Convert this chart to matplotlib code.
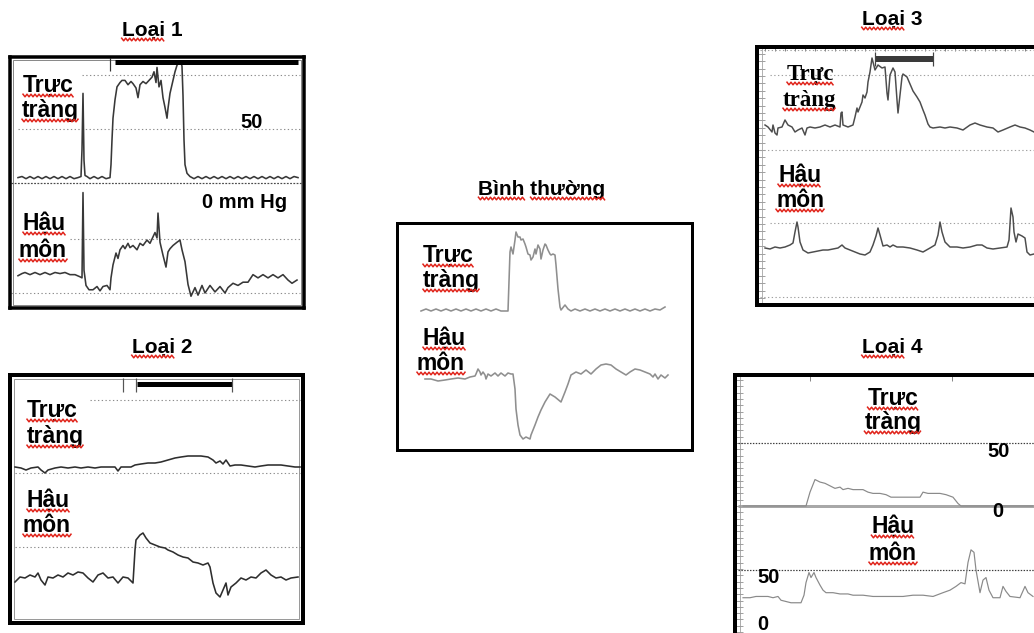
import numpy as np
import matplotlib
matplotlib.use("Agg")
import matplotlib.pyplot as plt
from matplotlib.transforms import Affine2D
from matplotlib.lines import Line2D
from matplotlib.patches import Rectangle

FIG_W, FIG_H, DPI = 1034, 633, 100
SANS = ["Liberation Sans", "DejaVu Sans"]
SERIF = ["Liberation Serif", "DejaVu Serif"]

# ---------------- recordings: time (s) and pressure (mmHg) ----------------
# Loại 1
L1_RECT_T = [10, 14, 18, 22, 26, 30, 34, 38, 42, 46, 50, 54, 58, 62, 66, 70, 73, 74, 75, 76,
             77, 79, 82, 86, 90, 94, 98, 102, 103, 104, 105, 107, 109, 112, 114, 117, 120, 123, 125, 128,
             130, 132, 135, 138, 140, 144, 146, 148, 149, 151, 153, 155, 157, 159, 160, 162, 165, 167, 169, 171,
             173, 174, 175, 176, 177, 179, 182, 186, 190, 194, 198, 202, 206, 210, 214, 218, 222, 226, 230, 234,
             238, 242, 246, 250, 254, 258, 262, 266, 270, 274, 278, 282, 286, 290]
L1_RECT_P = [5, 6, 4, 6, 4, 6, 4, 6, 4, 6, 4, 6, 4, 6, 4, 5, 6, 31, 83, 21,
             7, 6, 4, 6, 4, 6, 4, 5, 17, 40, 60, 77, 89, 93, 95, 95, 91, 94, 92, 88,
             79, 91, 94, 92, 94, 98, 103, 93, 107, 89, 95, 79, 70, 60, 69, 83, 95, 103, 109, 112,
             112, 108, 81, 40, 17, 9, 6, 4, 6, 4, 6, 4, 6, 4, 6, 4, 6, 4, 6, 4,
             6, 4, 6, 4, 6, 4, 6, 4, 6, 4, 6, 4, 6, 5]
L1_ANAL_T = [10, 14, 17, 22, 27, 32, 37, 42, 47, 52, 57, 62, 67, 72, 74, 75, 76, 78, 81, 85,
             89, 92, 95, 99, 102, 103, 105, 108, 110, 112, 115, 117, 120, 122, 125, 129, 132, 135, 139, 142,
             145, 147, 149, 150, 152, 155, 158, 160, 162, 165, 169, 172, 174, 177, 180, 183, 187, 190, 194, 197,
             202, 207, 212, 217, 220, 225, 230, 235, 240, 245, 250, 255, 260, 265, 270, 275, 280, 284, 289]
L1_ANAL_P = [16, 18, 19, 17, 19, 17, 19, 17, 19, 18, 19, 17, 17, 15, 14, 93, 21, 7, 3, 3,
             6, 2, 6, 7, 3, 14, 26, 37, 32, 40, 44, 41, 46, 42, 44, 40, 46, 44, 49, 46,
             52, 56, 51, 74, 47, 35, 24, 38, 41, 44, 47, 49, 40, 29, 8, -3, 5, -2, 7, 0,
             7, 1, 6, 0, 5, 9, 7, 10, 10, 17, 14, 17, 14, 17, 14, 17, 12, 9, 12]
L1_BALLOON = (107, 290)
L1_EVENTS = [102]

# Loại 2
L2_RECT_T = [7, 13, 18, 23, 30, 33, 37, 40, 47, 53, 60, 67, 73, 80, 87, 93, 100, 107, 110, 113,
             120, 123, 127, 133, 140, 147, 153, 160, 167, 173, 180, 187, 193, 200, 205, 208, 212, 215, 218, 222,
             227, 233, 240, 247, 253, 260, 267, 273, 280, 287, 292]
L2_RECT_P = [6, 5, 3, 5, 6, 3, 0, 3, 5, 6, 5, 6, 5, 6, 5, 6, 6, 6, 2, 6,
             6, 6, 8, 9, 10, 10, 11, 13, 15, 16, 17, 17, 17, 16, 13, 10, 12, 9, 13, 7,
             8, 8, 7, 6, 7, 8, 8, 8, 7, 6, 6]
L2_ANAL_T = [7, 12, 17, 22, 27, 30, 33, 37, 40, 45, 50, 55, 60, 65, 70, 75, 80, 85, 90, 95,
             100, 105, 110, 115, 120, 125, 127, 128, 132, 135, 138, 142, 147, 152, 157, 160, 165, 170, 175, 180,
             185, 190, 195, 200, 202, 205, 208, 212, 215, 218, 220, 223, 228, 233, 238, 243, 248, 253, 258, 263,
             268, 273, 278, 283, 290]
L2_ANAL_P = [18, 23, 22, 25, 23, 27, 20, 15, 23, 22, 25, 23, 27, 25, 28, 27, 22, 18, 25, 27,
             22, 23, 17, 23, 22, 17, 50, 60, 65, 67, 62, 57, 55, 53, 52, 50, 48, 45, 43, 42,
             38, 37, 35, 37, 33, 17, 7, 3, 10, 17, 5, 13, 17, 22, 20, 23, 22, 27, 30, 25,
             22, 23, 20, 22, 23]
L2_BALLOON = (129, 224)
L2_EVENTS = [115, 128, 224]

# Bình thường
N_RECT_T = [26, 31, 36, 41, 46, 51, 56, 61, 66, 71, 76, 81, 86, 91, 96, 101, 106, 113, 115, 116,
            118, 120, 121, 123, 125, 126, 128, 130, 131, 133, 135, 136, 138, 140, 141, 143, 145, 146, 148, 150,
            151, 153, 155, 156, 158, 160, 161, 163, 165, 166, 170, 173, 176, 180, 185, 190, 195, 200, 205, 210,
            215, 220, 225, 230, 235, 240, 245, 250, 255, 260, 265, 270]
N_RECT_P = [1, 3, 1, 3, 1, 3, 1, 3, 1, 3, 1, 3, 1, 3, 1, 3, 1, 1, 60, 65,
            58, 72, 80, 75, 75, 72, 73, 68, 65, 58, 57, 52, 55, 63, 58, 67, 63, 53, 62, 68,
            67, 62, 58, 57, 58, 57, 47, 23, 5, 2, 7, 3, 1, 3, 1, 3, 1, 3, 1, 3,
            1, 3, 1, 3, 1, 3, 1, 3, 1, 3, 2, 5]
N_ANAL_T = [30, 36, 43, 50, 56, 63, 70, 75, 80, 81, 83, 85, 86, 88, 90, 91, 93, 96, 100, 103,
            106, 110, 113, 116, 118, 120, 121, 123, 125, 128, 131, 135, 136, 140, 143, 146, 150, 155, 160, 166,
            170, 173, 176, 181, 186, 191, 196, 201, 206, 211, 216, 221, 226, 231, 235, 240, 245, 250, 255, 258,
            260, 263, 266, 270, 273]
N_ANAL_P = [61, 61, 59, 60, 61, 62, 61, 63, 64, 66, 71, 68, 65, 68, 65, 61, 66, 64, 67, 64,
            67, 64, 67, 66, 66, 51, 31, 15, 5, 1, 3, 1, 5, 15, 23, 30, 38, 46, 43, 38,
            48, 56, 65, 68, 66, 70, 66, 71, 75, 76, 75, 71, 68, 65, 68, 71, 70, 68, 66, 63,
            66, 61, 65, 62, 65]

# Loại 3
L3_RECT_T = [10, 13, 17, 18, 20, 22, 23, 27, 30, 33, 37, 40, 43, 47, 50, 52, 55, 60, 65, 70,
             75, 80, 85, 86, 87, 88, 93, 98, 100, 102, 103, 105, 107, 108, 110, 112, 113, 115, 117, 118,
             120, 123, 127, 130, 132, 133, 135, 138, 140, 142, 143, 145, 147, 148, 152, 155, 158, 162, 165, 168,
             170, 173, 175, 178, 185, 190, 195, 202, 208, 215, 220, 225, 232, 238, 243, 248, 255, 260, 265, 270,
             275, 279]
L3_RECT_P = [25, 23, 18, 25, 17, 15, 22, 23, 30, 25, 23, 18, 20, 22, 15, 22, 23, 22, 23, 25,
             23, 25, 23, 37, 38, 25, 23, 25, 33, 42, 38, 43, 48, 55, 52, 58, 68, 78, 92, 88,
             80, 85, 82, 83, 57, 50, 75, 82, 78, 50, 37, 55, 73, 76, 73, 66, 59, 53, 48, 40,
             35, 26, 23, 22, 23, 22, 23, 22, 20, 25, 27, 25, 23, 22, 18, 20, 23, 25, 23, 22,
             20, 18]
L3_ANAL_T = [10, 15, 20, 25, 30, 35, 38, 40, 42, 43, 45, 48, 53, 58, 63, 68, 73, 78, 83, 87,
             90, 95, 100, 105, 110, 115, 118, 121, 123, 125, 128, 132, 135, 138, 142, 148, 155, 162, 168, 175,
             180, 183, 185, 187, 190, 195, 202, 208, 215, 222, 227, 232, 238, 245, 252, 254, 256, 258, 259, 261,
             263, 267, 270, 272, 275, 279]
L3_ANAL_P = [49, 48, 50, 49, 50, 52, 54, 65, 75, 70, 55, 47, 44, 45, 46, 47, 47, 48, 49, 52,
             49, 47, 45, 43, 42, 45, 52, 61, 69, 62, 51, 52, 50, 52, 50, 50, 49, 47, 45, 49,
             52, 62, 75, 65, 55, 50, 50, 49, 50, 52, 52, 49, 48, 49, 50, 57, 89, 80, 65, 55,
             63, 61, 59, 45, 42, 43]
L3_BALLOON = (120, 178)
L3_EVENTS = [120, 178]

# Loại 4
L4_RECT_T = [10, 33, 73, 77, 82, 87, 92, 97, 102, 107, 110, 115, 120, 125, 130, 135, 140, 147, 153, 158,
             167, 177, 187, 190, 195, 200, 207, 213, 220, 225, 228, 250, 300]
L4_RECT_P = [0, 0, 0, 11, 21, 19, 18, 16, 14, 15, 13, 14, 13, 13, 13, 11, 10, 10, 9, 7,
             7, 7, 7, 11, 10, 10, 10, 9, 7, 2, 0, 0, 0]
L4_ANAL_T = [10, 17, 23, 30, 35, 40, 45, 48, 53, 58, 63, 68, 71, 73, 76, 78, 81, 83, 87, 90,
             93, 100, 107, 115, 120, 130, 140, 150, 160, 170, 180, 190, 200, 210, 217, 223, 228, 232, 235, 238,
             241, 243, 247, 250, 253, 256, 260, 267, 270, 273, 277, 287, 292, 295, 300]
L4_ANAL_P = [28, 28, 29, 29, 29, 28, 29, 26, 25, 24, 24, 24, 30, 40, 48, 44, 48, 44, 38, 34,
             32, 32, 31, 31, 30, 30, 29, 29, 29, 29, 30, 30, 29, 32, 34, 37, 40, 39, 56, 66,
             64, 50, 32, 42, 44, 34, 28, 28, 37, 33, 29, 28, 37, 32, 29]
L4_EVENTS = [77, 219]

# ---------------- figure ----------------
fig = plt.figure(figsize=(FIG_W / DPI, FIG_H / DPI), dpi=DPI)
fig.patch.set_facecolor("white")


def pt(px):
    return px * 72.0 / DPI


DOTTED = (0, (1.2, 2.2))


class Panel:
    """A framed recording strip; axes data units are pixels from the frame's left / bottom."""

    def __init__(self, box, border):
        self.l, self.t, self.r, self.b = box
        half = border / 2.0
        w = self.r - self.l
        self.h = self.b - self.t
        self.w = w
        ax = fig.add_axes([(self.l + half) / FIG_W, 1 - (self.b - half) / FIG_H,
                           (w - border) / FIG_W, (self.h - border) / FIG_H])
        ax.set_xlim(half, w - half)
        ax.set_ylim(half, self.h - half)
        ax.set_xticks([])
        ax.set_yticks([])
        ax.set_facecolor("white")
        for sp in ax.spines.values():
            sp.set_linewidth(pt(border))
            sp.set_color("black")
            sp.set_zorder(6)
        self.ax = ax

    def row(self, y):
        return self.b - y

    def channel(self, zero_y, gain):
        return Affine2D().scale(1.0, gain).translate(0.0, self.b - zero_y) + self.ax.transData

    def trace(self, tf, t, p, color, lw):
        self.ax.plot(t, p, color=color, lw=pt(lw), transform=tf,
                     solid_joinstyle="round", zorder=3)

    def grid(self, tf, level, t0, t1, color="#8c8c8c", lw=1.1, style=DOTTED):
        self.ax.hlines(level, t0, t1, transform=tf, colors=color,
                       linewidth=pt(lw), linestyles=style, zorder=2)

    def bar(self, span, y, thick, color="black"):
        self.ax.hlines(self.row(y), span[0], span[1], colors=color,
                       linewidth=pt(thick), zorder=4)

    def ticks(self, times, y0, y1, color="#333333", lw=1.2):
        self.ax.vlines(times, self.row(y1), self.row(y0), colors=color,
                       linewidth=pt(lw), zorder=4)

    def inner_frame(self, inset, color="#8a8a8a", lw=1.0):
        self.ax.add_patch(Rectangle((inset, inset), self.w - 2 * inset, self.h - 2 * inset,
                                    fill=False, ec=color, lw=pt(lw), zorder=2))


squiggled = []


def put(x, y, s, size, ha="left", family=SANS, marked=()):
    txt = fig.text(x / FIG_W, 1 - y / FIG_H, s, fontsize=size, ha=ha, va="baseline",
                   family=family, fontweight="bold", color="black", zorder=10)
    if marked:
        squiggled.append((txt, marked, y))
    return txt


TITLE = 15
LABEL = 16.5
VALUE = 14.5
TRACE_DARK = "#383838"

# ---- Loại 1 ----
p1 = Panel((8, 55, 306, 310), 3.5)
p1.inner_frame(5)
r1 = p1.channel(183, 1.08)
a1 = p1.channel(293, 1.08)
p1.grid(r1, 100, 74, 292)
p1.grid(r1, 50, 10, 292)
p1.grid(r1, 0, 3, 295, color="#4a4a4a", lw=1.2, style=(0, (1.5, 1.2)))
p1.grid(a1, 50, 62, 292)
p1.grid(a1, 0, 3, 292)
p1.bar(L1_BALLOON, 61.5, 5)
p1.ticks(L1_EVENTS, 58, 71)
p1.trace(r1, L1_RECT_T, L1_RECT_P, TRACE_DARK, 1.6)
p1.trace(a1, L1_ANAL_T, L1_ANAL_P, TRACE_DARK, 1.6)

# ---- Loại 2 ----
p2 = Panel((8, 373, 305, 625), 4)
p2.inner_frame(6, color="#9a9a9a")
r2 = p2.channel(473, 1.0)
a2 = p2.channel(600, 1.0)
p2.grid(r2, 73, 82, 292)
p2.grid(r2, 0, 7, 292)
p2.grid(a2, 53, 7, 292)
p2.bar(L2_BALLOON, 383.5, 5)
p2.ticks(L2_EVENTS, 378, 392, color="#555555")
p2.trace(r2, L2_RECT_T, L2_RECT_P, "#2e2e2e", 1.6)
p2.trace(a2, L2_ANAL_T, L2_ANAL_P, "#2e2e2e", 1.6)

# ---- Bình thường ----
pn = Panel((395, 221, 694, 451), 3)
rn = pn.channel(312, 1.0)
an = pn.channel(440, 1.0)
pn.trace(rn, N_RECT_T, N_RECT_P, "#8f8f8f", 1.6)
pn.trace(an, N_ANAL_T, N_ANAL_P, "#8f8f8f", 1.6)

# ---- Loại 3 ----
p3 = Panel((755, 45, 1050, 307), 4)
r3 = p3.channel(150, 1.0)
a3 = p3.channel(297, 1.0)
for tf, lvl, t0 in ((r3, 100, 5), (r3, 75, 15), (r3, 0, 5), (a3, 74, 15), (a3, 0, 5)):
    p3.grid(tf, lvl, t0, 300, color="#a0a0a0")
p3.ax.axvline(7, color="#a0a0a0", lw=pt(0.8), zorder=2)
p3.ax.set_yticks(p3.row(150) + 7.4 * np.arange(-20, 16))
p3.ax.set_xticks(np.arange(10, 300, 10))
p3.ax.tick_params(axis="y", direction="in", length=pt(8), width=pt(0.8), color="#8a8a8a",
                  left=True, right=False, labelleft=False)
p3.ax.tick_params(axis="x", direction="in", length=pt(4), width=pt(0.8), color="#666666",
                  top=True, bottom=False, labelbottom=False, labeltop=False)
p3.ax.set_ylim(2, p3.h - 2)
p3.bar(L3_BALLOON, 58.5, 6, color="#3a3a3a")
p3.ticks(L3_EVENTS, 52, 66, color="#444444")
p3.trace(r3, L3_RECT_T, L3_RECT_P, "#4d4d4d", 1.5)
p3.trace(a3, L3_ANAL_T, L3_ANAL_P, "#4d4d4d", 1.5)

# ---- Loại 4 ----
p4 = Panel((733, 373, 1050, 660), 4)
r4 = p4.channel(506, 1.26)
a4 = p4.channel(633, 1.26)
p4.grid(r4, 50, 5, 310, color="#3c3c3c", lw=1.2, style=(0, (1.2, 1.2)))
p4.grid(r4, 0, 5, 310, color="#a8a8a8", lw=3, style="solid")
p4.grid(a4, 50, 5, 310, color="#3c3c3c", lw=1.2, style=(0, (1.2, 1.2)))
p4.ax.axvline(7, color="#9a9a9a", lw=pt(0.8), zorder=2)
p4.ax.set_yticks(p4.row(506) + 6.3 * np.arange(-20, 30))
p4.ax.tick_params(axis="y", direction="in", length=pt(8), width=pt(0.8), color="#8a8a8a",
                  left=True, right=False, labelleft=False)
p4.ax.set_ylim(2, p4.h - 2)
p4.ticks(L4_EVENTS, 375, 381, color="#888888", lw=1.0)
p4.trace(r4, L4_RECT_T, L4_RECT_P, "#8a8a8a", 1.2)
p4.trace(a4, L4_ANAL_T, L4_ANAL_P, "#8a8a8a", 1.2)

# ---- titles and labels ----
put(152, 36, "Loại 1", TITLE, ha="center", marked=("Loại",))
put(162, 353, "Loại 2", TITLE, ha="center", marked=("Loại",))
put(542, 195, "Bình thường", TITLE, ha="center", marked=("Bình", "thường"))
put(892, 25, "Loại 3", TITLE, ha="center", marked=("Loại",))
put(892, 353, "Loại 4", TITLE, ha="center", marked=("Loại",))

put(23, 92, "Trực", LABEL, marked=("Trực",))
put(22, 117, "tràng", LABEL, marked=("tràng",))
put(23, 230, "Hậu", LABEL, marked=("Hậu",))
put(19, 257, "môn", LABEL, marked=("môn",))
put(240, 128, "50", VALUE)
put(202, 208, "0 mm Hg", VALUE)

put(27, 417, "Trực", LABEL, marked=("Trực",))
put(27, 443, "tràng", LABEL, marked=("tràng",))
put(27, 507, "Hậu", LABEL, marked=("Hậu",))
put(23, 532, "môn", LABEL, marked=("môn",))

put(423, 262, "Trực", LABEL, marked=("Trực",))
put(423, 287, "tràng", LABEL, marked=("tràng",))
put(423, 345, "Hậu", LABEL, marked=("Hậu",))
put(417, 370, "môn", LABEL, marked=("môn",))

put(787, 80, "Trực", LABEL, family=SERIF, marked=("Trực",))
put(783, 106, "tràng", LABEL, family=SERIF, marked=("tràng",))
put(778, 182, "Hậu", LABEL, marked=("Hậu",))
put(776, 207, "môn", LABEL, marked=("môn",))

put(893, 405, "Trực", LABEL, ha="center", marked=("Trực",))
put(893, 429, "tràng", LABEL, ha="center", marked=("tràng",))
put(893, 533, "Hậu", LABEL, ha="center", marked=("Hậu",))
put(893, 560, "môn", LABEL, ha="center", marked=("môn",))
put(987, 457, "50", VALUE)
put(992, 517, "0", VALUE)
put(757, 583, "50", VALUE)
put(757, 630, "0", VALUE)

# ---- spell-check style wavy underlines ----
fig.canvas.draw()
rend = fig.canvas.get_renderer()


def text_width(s, ref):
    tmp = fig.text(0, 0, s, fontproperties=ref.get_fontproperties())
    w = tmp.get_window_extent(rend).width
    tmp.remove()
    return w


for txt, words, base in squiggled:
    bb = txt.get_window_extent(rend)
    s = txt.get_text()
    for wd in words:
        end = s.index(wd) + len(wd)
        x1 = bb.x0 + text_width(s[:end], txt)
        x0 = x1 - text_width(wd, txt)
        xs = np.arange(x0, x1 + 0.1, 2.0)
        ys = (FIG_H - base - 3.5) + np.where(np.arange(len(xs)) % 2 == 0, 1.3, -1.3)
        fig.add_artist(Line2D(xs / FIG_W, ys / FIG_H, transform=fig.transFigure,
                              color="#e0241b", lw=1.1, zorder=11))

fig.savefig("out.png", dpi=DPI, facecolor="white")
